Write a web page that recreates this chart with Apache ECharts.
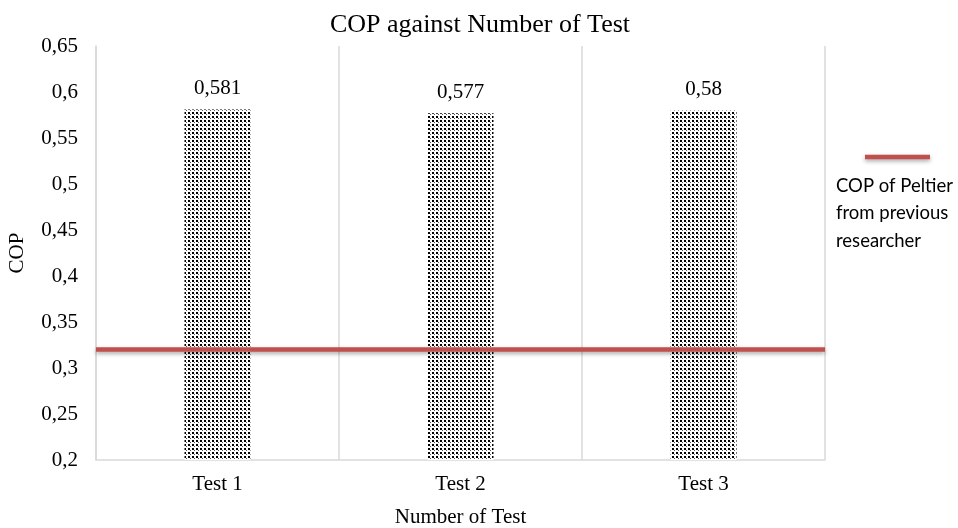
<!DOCTYPE html>
<html><head><meta charset="utf-8">
<script src="https://cdn.jsdelivr.net/npm/echarts@6/dist/echarts.min.js"></script>
<style>html,body{margin:0;padding:0;background:#fff}#c{width:958px;height:528px}</style>
</head><body><div id="c"></div>
<script>
const categories = ['Test 1', 'Test 2', 'Test 3'];
const copValues = [0.581, 0.577, 0.58];
const previousCOP = 0.32;
const yTicks = {min: 0.2, max: 0.65, interval: 0.05};

const tile = document.createElement('canvas');
tile.width = 4; tile.height = 4;
const tc = tile.getContext('2d');
tc.fillStyle = '#fff'; tc.fillRect(0, 0, 4, 4);
tc.fillStyle = '#000';
tc.fillRect(0, 0, 2, 2);
tc.fillStyle = '#555';
tc.fillRect(2, 2, 1, 1);

const serif = 'Liberation Serif';
const fmt = v => (+v.toFixed(3)).toString().replace('.', ',');
const chart = echarts.init(document.getElementById('c'));
chart.setOption({
  animation: false,
  title: {text: 'COP against Number of Test', left: 475, textAlign: 'center', top: 7,
    textStyle: {fontFamily: serif, fontSize: 26, fontWeight: 'normal', color: '#000'}},
  grid: {left: 96, right: 133, top: 46, bottom: 68, containLabel: false, outerBoundsMode: 'none'},
  xAxis: {type: 'category', data: categories,
    name: 'Number of Test', nameLocation: 'middle', nameGap: 47,
    nameTextStyle: {fontFamily: serif, fontSize: 21, color: '#000'},
    axisLine: {lineStyle: {color: '#d9d9d9', width: 1.5}}, axisTick: {show: false},
    axisLabel: {fontFamily: serif, fontSize: 21, color: '#000', margin: 14},
    splitLine: {show: true, lineStyle: {color: '#d9d9d9', width: 1.5}}},
  yAxis: {type: 'value', min: yTicks.min, max: yTicks.max, interval: yTicks.interval,
    name: 'COP', nameLocation: 'middle', nameGap: 68,
    nameTextStyle: {fontFamily: serif, fontSize: 21, color: '#000'},
    axisLine: {show: true, lineStyle: {color: '#d9d9d9', width: 1.5}}, axisTick: {show: false},
    axisLabel: {fontFamily: serif, fontSize: 21, color: '#000', margin: 18, formatter: fmt},
    splitLine: {show: false}},
  series: [{type: 'bar', data: copValues, barWidth: 66,
    itemStyle: {color: {image: tile, repeat: 'repeat'}},
    label: {show: true, position: 'top', distance: 10, formatter: p => fmt(p.value),
      fontFamily: serif, fontSize: 21, color: '#000'},
    markLine: {symbol: 'none', silent: true, label: {show: false},
      lineStyle: {color: '#C0504D', width: 4.5, type: 'solid', shadowColor: 'rgba(0,0,0,0.35)', shadowBlur: 4, shadowOffsetY: 2},
      data: [{yAxis: previousCOP}]}}],
  graphic: [
    {type: 'line', shape: {x1: 865, y1: 157, x2: 930, y2: 157},
      style: {stroke: '#C0504D', lineWidth: 4.5, shadowColor: 'rgba(0,0,0,0.35)', shadowBlur: 4, shadowOffsetY: 2}},
    {type: 'text', left: 836, top: 172,
      style: {text: 'COP of Peltier\nfrom previous\nresearcher', font: '18.5px Lato', lineHeight: 27.5, fill: '#000'}}
  ]
});
</script></body></html>
